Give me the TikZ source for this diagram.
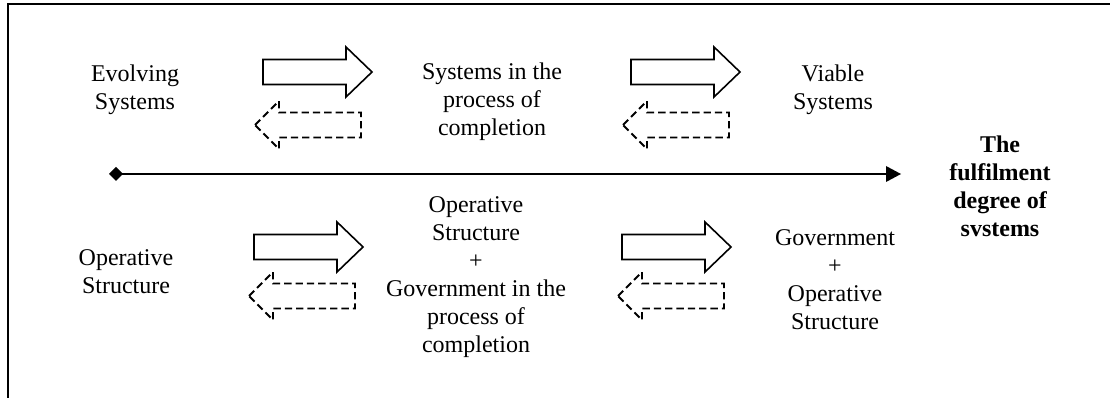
\documentclass[tikz,border=0pt]{standalone}
\usepackage{fontspec}
\setmainfont{Liberation Serif}
\begin{document}
\begin{tikzpicture}[x=0.75pt,y=-0.75pt,
  txt/.style={align=center,font=\fontsize{18}{21}\selectfont,inner sep=0pt},
  boldtxt/.style={txt,font=\fontsize{18}{21}\selectfont\bfseries},
  frameline/.style={line width=1.5pt},
  axisline/.style={line width=1.5pt},
  solidarrow/.style={line width=1.2pt,line join=miter},
  dasharrow/.style={line width=1.4pt,dash pattern=on 5.5pt off 3pt},
  pics/fwd/.style={code={\draw[solidarrow] (0,-12.5) -- (83,-12.5) -- (83,-25) -- (109,0) -- (83,25) -- (83,12.5) -- (0,12.5) -- cycle;}},
  pics/back/.style={code={\draw[dasharrow] (0,0) -- (24,-24) -- (24,-12.5) -- (106,-12.5) -- (106,12.5) -- (24,12.5) -- (24,24) -- cycle;}}
]
\useasboundingbox (0,0) rectangle (1110,398);
% frame
\draw[frameline] (8,398) -- (8,4) -- (1110,4);
% texts
\node[txt] (ev) at (135,90) {Evolving\\Systems};
\node[txt] (sp) at (492,102) {Systems in the\\process of\\completion};
\node[txt] (vs) at (833,90) {Viable\\Systems};
\node[txt] (os) at (126,272) {Operative\\Structure};
\node[txt] (osg) at (476,277) {Operative\\Structure\\+\\Government in the\\process of\\completion};
\node[txt] (gos) at (835,280) {Government\\+\\Operative\\Structure};
\node[boldtxt] (deg) at (1000,186) {The\\fulfilment\\degree of\\svstems};
% axis
\coordinate (axs) at (116,174);
\coordinate (axe) at (901,174);
\draw[axisline] (axs) -- (886,174);
\fill (axe) -- (886,166) -- (886,182) -- cycle;
\fill (axs) ++(-7,0) -- ++(7,-7) -- ++(7,7) -- ++(-7,7) -- cycle;
% block arrows
\pic at (263,72) {fwd};
\pic at (255,125) {back};
\pic at (631,72) {fwd};
\pic at (623,125) {back};
\pic at (254,247) {fwd};
\pic at (249,296) {back};
\pic at (622,247) {fwd};
\pic at (618,296) {back};
\end{tikzpicture}
\end{document}
